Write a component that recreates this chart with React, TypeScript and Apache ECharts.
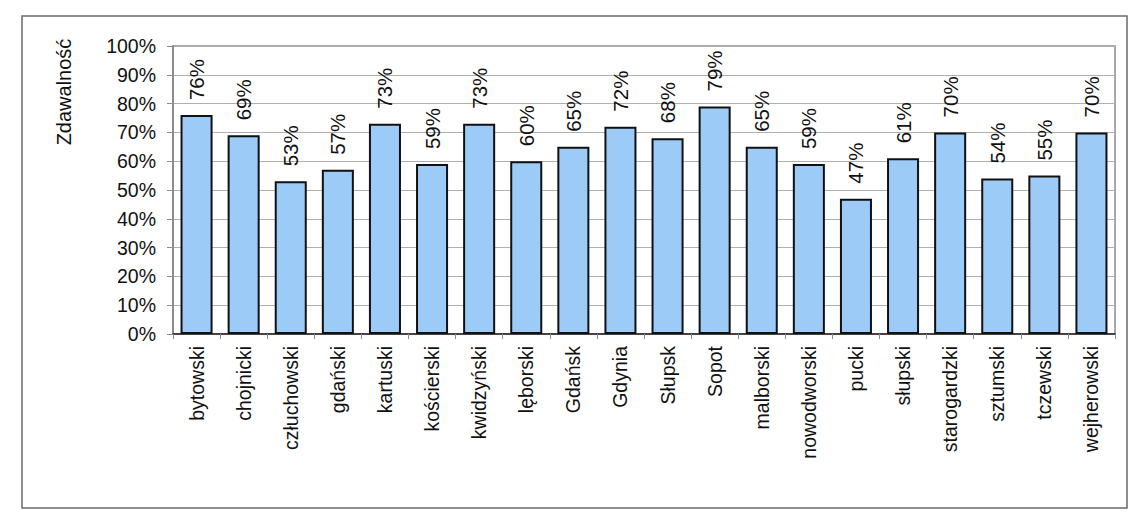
import React, { useEffect, useRef } from "react";
import * as echarts from "echarts";

const categories = [
  "bytowski", "chojnicki", "człuchowski", "gdański", "kartuski", "kościerski",
  "kwidzyński", "lęborski", "Gdańsk", "Gdynia", "Słupsk", "Sopot", "malborski",
  "nowodworski", "pucki", "słupski", "starogardzki", "sztumski", "tczewski", "wejherowski",
];
const values = [76, 69, 53, 57, 73, 59, 73, 60, 65, 72, 68, 79, 65, 59, 47, 61, 70, 54, 55, 70];
const yTicks = [0, 10, 20, 30, 40, 50, 60, 70, 80, 90, 100];
const yTitle = "Zdawalność";

const FONT = "'Liberation Sans', Arial, sans-serif";

export default function App() {
  const ref = useRef<HTMLDivElement>(null);
  useEffect(() => {
    const chart = echarts.init(ref.current!, null, { renderer: "svg" });
    chart.setOption({
      animation: false,
      backgroundColor: "#ffffff",
      grid: { left: 173, top: 46, right: 25, bottom: 184, show: true, borderColor: "#8c8c8c", borderWidth: 1.5, backgroundColor: "transparent" },
      graphic: [
        { type: "rect", shape: { x: 22, y: 16, width: 1105, height: 492 }, style: { fill: "none", stroke: "#6a6a6a", lineWidth: 1.5 }, silent: true },
        { type: "text", x: 64, y: 92, rotation: Math.PI / 2, style: { text: yTitle, font: `20px ${FONT}`, fill: "#111", align: "center", verticalAlign: "middle" } },
      ],
      xAxis: {
        type: "category",
        data: categories,
        boundaryGap: true,
        axisLine: { show: true, lineStyle: { color: "#222", width: 1.5 } },
        axisTick: { show: true, length: 5, lineStyle: { color: "#8c8c8c" } },
        axisLabel: { rotate: 90, interval: 0, margin: 12, fontSize: 19.5, fontFamily: FONT, color: "#111" },
      },
      yAxis: {
        type: "value",
        min: 0,
        max: 100,
        interval: 10,
        axisLine: { show: true, lineStyle: { color: "#8c8c8c", width: 2 } },
        axisTick: { show: true, length: 6, lineStyle: { color: "#8c8c8c" } },
        splitLine: { show: true, lineStyle: { color: "#b0b0b0", width: 1.2 } },
        axisLabel: {
          margin: 17, fontSize: 19.5, fontFamily: FONT, color: "#111",
          formatter: (v: number) => (yTicks.includes(v) ? `${v}%` : ""),
        },
      },
      series: [
        {
          type: "bar",
          data: values,
          barWidth: "68%",
          itemStyle: { color: "#9dcbf7", borderColor: "#111", borderWidth: 2 },
          label: {
            show: true,
            position: "top",
            rotate: 90,
            align: "left",
            verticalAlign: "middle",
            distance: 15,
            fontSize: 20.5,
            fontFamily: FONT,
            color: "#111",
            formatter: (p: any) => `${p.value}%`,
          },
        },
      ],
    });
    return () => chart.dispose();
  }, []);
  return <div ref={ref} style={{ position: "fixed", left: 0, top: 0, width: 1140, height: 518 }} />;
}
